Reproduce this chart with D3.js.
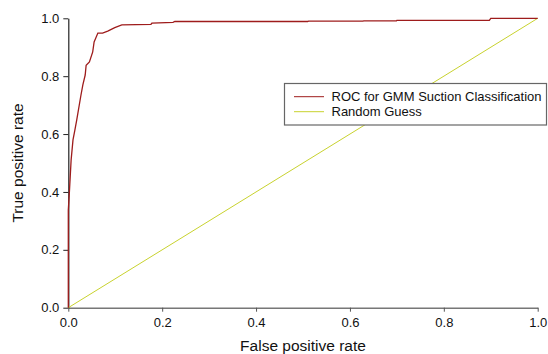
<!DOCTYPE html>
<html>
<head>
<meta charset="utf-8">
<script src="https://cdn.jsdelivr.net/npm/d3@7"></script>
<style>
  body { margin: 0; background: #fff; }
  svg text { font-family: "Liberation Sans", Arial, sans-serif; }
</style>
</head>
<body>
<div id="chart"></div>
<script>
// ROC curve points
const rocFpr = [0, 0, 0.002, 0.006, 0.010, 0.014, 0.018, 0.027, 0.031, 0.036, 0.038, 0.045, 0.052, 0.055, 0.063, 0.073, 0.084, 0.099, 0.114, 0.176, 0.178, 0.223, 0.227, 0.51, 0.512, 0.627, 0.63, 0.699, 0.70, 0.897, 0.90, 1.0];
const rocTpr = [0, 0.337, 0.39, 0.51, 0.58, 0.614, 0.649, 0.735, 0.770, 0.804, 0.838, 0.849, 0.884, 0.918, 0.949, 0.949, 0.956, 0.968, 0.977, 0.979, 0.983, 0.986, 0.989, 0.989, 0.990, 0.990, 0.991, 0.991, 0.993, 0.993, 1.0, 1.0];
const guessX = [0, 1];
const guessY = [0, 1];
const ticks = [0, 0.2, 0.4, 0.6, 0.8, 1.0];
const legendLabels = ['ROC for GMM Suction Classification', 'Random Guess'];
const colors = ['#9e1c1c', '#c8d22e'];

const W = 548, H = 354;
const margin = { left: 68.3, right: 10.3, top: 18.3, bottom: 46.3 };

const svg = d3.select('#chart').append('svg').attr('width', W).attr('height', H);

const x = d3.scaleLinear().domain([0, 1]).range([margin.left, W - margin.right]);
const y = d3.scaleLinear().domain([0, 1]).range([H - margin.bottom, margin.top]);

const fmt = d3.format('.1f');

const xAxis = svg.append('g').attr('transform', `translate(0,${y(0)})`)
  .call(d3.axisBottom(x).tickValues(ticks).tickFormat(fmt).tickSize(4).tickPadding(6).tickSizeOuter(0));
xAxis.select('.domain').attr('stroke', '#777').attr('stroke-width', 1.5);
xAxis.selectAll('.tick line').attr('stroke', '#555');
xAxis.selectAll('text').attr('font-size', 13).attr('fill', '#111');

const yAxis = svg.append('g').attr('transform', `translate(${x(0)},0)`)
  .call(d3.axisLeft(y).tickValues(ticks).tickFormat(fmt).tickSize(5).tickPadding(4).tickSizeOuter(0));
yAxis.select('.domain').attr('stroke', '#222').attr('stroke-width', 1.2);
yAxis.selectAll('.tick line').attr('stroke', '#222');
yAxis.selectAll('text').attr('font-size', 13).attr('fill', '#111');

// random guess diagonal
svg.append('path')
  .datum(guessX.map((v, i) => [v, guessY[i]]))
  .attr('d', d3.line().x(d => x(d[0])).y(d => y(d[1])))
  .attr('fill', 'none').attr('stroke', colors[1]).attr('stroke-width', 1);

// ROC curve
svg.append('path')
  .datum(rocFpr.map((v, i) => [v, rocTpr[i]]))
  .attr('d', d3.line().x(d => x(d[0])).y(d => y(d[1])))
  .attr('fill', 'none').attr('stroke', colors[0]).attr('stroke-width', 1.3);

// axis titles
svg.append('text').attr('x', x(0.5)).attr('y', 351).attr('text-anchor', 'middle')
  .attr('font-size', 15.5).attr('fill', '#111').text('False positive rate');
svg.append('text').attr('transform', `translate(23,${y(0.5)}) rotate(-90)`).attr('text-anchor', 'middle')
  .attr('font-size', 15.5).attr('fill', '#111').text('True positive rate');

// legend
const lg = svg.append('g');
lg.append('rect').attr('x', 284.5).attr('y', 83.5).attr('width', 262).attr('height', 41.5)
  .attr('fill', '#fff').attr('stroke', '#666').attr('stroke-width', 1.2);
legendLabels.forEach((lab, i) => {
  const ly = 96.7 + i * 15;
  lg.append('line').attr('x1', 294).attr('x2', 324).attr('y1', ly).attr('y2', ly)
    .attr('stroke', colors[i]).attr('stroke-width', 1);
  const t = lg.append('text').attr('x', 331.5).attr('y', ly + 4.6).attr('font-size', 13).attr('fill', '#111').text(lab);
  if (i === 0) t.attr('textLength', 210).attr('lengthAdjust', 'spacing');
});
</script>
</body>
</html>
